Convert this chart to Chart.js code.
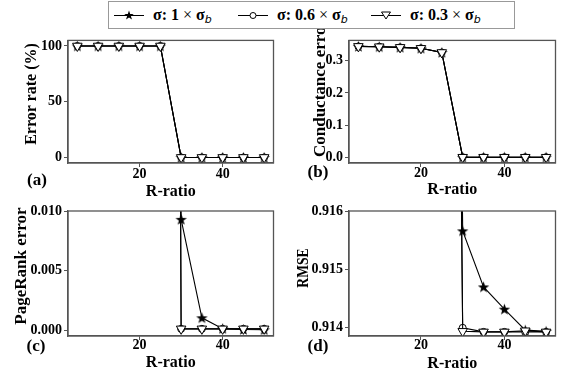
<!DOCTYPE html>
<html>
<head>
<meta charset="utf-8">
<script src="https://cdn.jsdelivr.net/npm/chart.js@4"></script>
<style>
  body { margin: 0; width: 562px; height: 373px; background: #fff; position: relative; overflow: hidden; }
  canvas.panel { position: absolute; }
  .tag { position: absolute; font: bold 17px "Liberation Serif", serif; transform: translate(-50%, -50%); color: #000; }
  .ytitle { position: absolute; font: bold 16px "Liberation Serif", serif; color: #000; white-space: nowrap; line-height: 1; }
  #legend { position: absolute; left: 108px; top: 1px; width: 405px; height: 26px; border: 1px solid #999; background: #fff;
            z-index: 2; font: bold 16px "Liberation Serif", serif; color: #000; }
  .item { position: absolute; top: 0; height: 26px; display: flex; align-items: center; white-space: nowrap; }
  .item canvas { margin-right: 9px; }
  .x { font-weight: normal; }
  .sub { font: italic 11px "DejaVu Sans", sans-serif; position: relative; top: 3px; }
</style>
</head>
<body>
<div id="legend"></div>
<canvas id="chartA" class="panel" width="280" height="170" style="left:0;top:30px"></canvas>
<canvas id="chartB" class="panel" width="282" height="170" style="left:280px;top:30px"></canvas>
<canvas id="chartC" class="panel" width="280" height="173" style="left:0;top:200px"></canvas>
<canvas id="chartD" class="panel" width="282" height="173" style="left:280px;top:200px"></canvas>
<div class="ytitle" style="left:30.5px;top:94px;transform:translate(-50%,-50%) rotate(-90deg)">Error rate (%)</div>
<div class="ytitle" style="left:319px;top:88px;font-size:17px;transform:translate(-50%,-50%) rotate(-90deg)">Conductance error</div>
<div class="ytitle" style="left:19.5px;top:265.5px;font-size:17px;transform:translate(-50%,-50%) rotate(-90deg)">PageRank error</div>
<div class="ytitle" style="left:301.5px;top:268px;font-size:17px;transform:translate(-50%,-50%) rotate(-90deg) scaleX(0.8)">RMSE</div>
<div class="tag" style="left:37px;top:180px">(a)</div>
<div class="tag" style="left:318px;top:172px">(b)</div>
<div class="tag" style="left:36px;top:346px">(c)</div>
<div class="tag" style="left:318px;top:346px">(d)</div>
<script>
// R-ratio values on the x axis
const rRatio = [5, 10, 15, 20, 25, 30, 35, 40, 45, 50];
const xTicks = [20, 40];

// (a) error rate (%)
const errStar   = [100, 100, 100, 100, 100, 0, 0, 0, 0, 0];
const errCircle = [100, 100, 100, 100, 100, 0, 0, 0, 0, 0];
const errTri    = [100, 100, 100, 100, 100, 0, 0, 0, 0, 0];
const errTicks  = [0, 50, 100];

// (b) conductance error
const condStar   = [0.345, 0.344, 0.342, 0.339, 0.326, 0, 0, 0, 0, 0];
const condCircle = [0.345, 0.344, 0.342, 0.339, 0.326, 0, 0, 0, 0, 0];
const condTri    = [0.345, 0.344, 0.342, 0.339, 0.326, 0, 0, 0, 0, 0];
const condTicks  = [0, 0.1, 0.2, 0.3];

// (c) PageRank error (values below R=30 are off the top of the axis)
const prStar   = [0.41, 0.40, 0.40, 0.39, 0.38, 0.0093, 0.00103, 0.00012, 0.00005, 0.00003];
const prCircle = [0.41, 0.40, 0.40, 0.39, 0.38, 0.0001, 0.0001, 0.0001, 0.0001, 0.0001];
const prTri    = [0.41, 0.40, 0.40, 0.39, 0.38, 0.0001, 0.0001, 0.0001, 0.0001, 0.0001];
const prTicks  = [0, 0.005, 0.01];

// (d) RMSE (values below R=30 are off the top of the axis)
const rmseStar   = [0.95, 0.95, 0.95, 0.95, 0.95, 0.91566, 0.91470, 0.91432, 0.91396, 0.91394];
const rmseCircle = [0.95, 0.95, 0.95, 0.95, 0.95, 0.91400, 0.91393, 0.91393, 0.91393, 0.91393];
const rmseTri    = [0.95, 0.95, 0.95, 0.95, 0.95, 0.91394, 0.91393, 0.91393, 0.91395, 0.91393];
const rmseTicks  = [0.914, 0.915, 0.916];

const seriesNames = ['σ: 1 × σ', 'σ: 0.6 × σ', 'σ: 0.3 × σ'];

// filled five-point star used as the point style
function starPath(ctx, cx, cy, ro, ri) {
    ctx.beginPath();
    for (let i = 0; i < 10; i++) {
        const r = i % 2 ? ri : ro;
        const a = -Math.PI / 2 + i * Math.PI / 5;
        ctx.lineTo(cx + r * Math.cos(a), cy + r * Math.sin(a));
    }
    ctx.closePath();
}
const starImg = document.createElement('canvas');
starImg.width = 13; starImg.height = 13;
(function () {
    const c = starImg.getContext('2d');
    starPath(c, 6.5, 7, 6, 2.4);
    c.fillStyle = '#000';
    c.fill();
})();

const serif = '"Liberation Serif", serif';

function datasets(star, circle, tri) {
    const pts = arr => arr.map((v, i) => ({ x: rRatio[i], y: v }));
    return [
        { data: pts(star), borderColor: '#000', borderWidth: 1.1, pointStyle: starImg, order: 3 },
        { data: pts(circle), borderColor: '#000', borderWidth: 1.1, pointStyle: 'circle', pointRadius: 3.5,
          pointBackgroundColor: '#fff', pointBorderColor: '#000', pointBorderWidth: 1, order: 2 },
        { data: pts(tri), borderColor: '#000', borderWidth: 1.1, pointStyle: 'triangle', pointRotation: 180,
          pointRadius: 5.5, pointBackgroundColor: '#fff', pointBorderColor: '#000', pointBorderWidth: 1, order: 1 }
    ];
}

// draw the full box around the plot area
const framePlugin = {
    id: 'frame',
    afterDatasetsDraw(chart) {
        const { ctx, chartArea: a } = chart;
        ctx.save();
        ctx.strokeStyle = '#555';
        ctx.lineWidth = 1.3;
        ctx.strokeRect(a.left, a.top, a.right - a.left, a.bottom - a.top);
        ctx.restore();
    }
};

function makeChart(id, cfg) {
    const axisGrid = { display: true, drawOnChartArea: false, drawTicks: true, tickLength: 4, color: '#555', tickWidth: 1 };
    return new Chart(document.getElementById(id), {
        type: 'line',
        data: { datasets: datasets(cfg.star, cfg.circle, cfg.tri) },
        plugins: [framePlugin],
        options: {
            responsive: false,
            animation: false,
            devicePixelRatio: 1,
            layout: { padding: { top: cfg.padTop, right: cfg.padRight, left: 0, bottom: 0 } },
            plugins: { legend: { display: false }, tooltip: { enabled: false } },
            scales: {
                x: {
                    type: 'linear', min: 2.75, max: 52.25,
                    afterBuildTicks: s => { s.ticks = xTicks.map(v => ({ value: v })); },
                    afterFit: s => { s.height = cfg.xH; },
                    grid: axisGrid,
                    border: { display: true, color: '#555', width: 1.3 },
                    ticks: { color: '#000', font: { family: serif, size: 14, weight: 'bold' }, padding: cfg.xTickPad, maxRotation: 0 },
                    title: { display: true, text: 'R-ratio', color: '#000', font: { family: serif, size: 16, weight: 'bold' },
                             padding: { top: 0, bottom: cfg.xTitlePad } }
                },
                y: {
                    type: 'linear', min: cfg.yMin, max: cfg.yMax,
                    afterBuildTicks: s => { s.ticks = cfg.yTicks.map(v => ({ value: v })); },
                    afterFit: s => { s.width = cfg.yW; },
                    grid: axisGrid,
                    border: { display: true, color: '#555', width: 1.3 },
                    ticks: { color: '#000', font: { family: serif, size: 14, weight: 'bold' }, padding: 2,
                             callback: v => v.toFixed(cfg.dec) }
                }
            }
        }
    });
}

makeChart('chartA', { star: errStar, circle: errCircle, tri: errTri, yTicks: errTicks, yMin: -5, yMax: 105, dec: 0,
    padTop: 7, padRight: 5, yW: 68, xH: 37, xTickPad: -1, xTitlePad: -1 });
makeChart('chartB', { star: condStar, circle: condCircle, tri: condTri, yTicks: condTicks, yMin: -0.018, yMax: 0.3636, dec: 1,
    padTop: 7, padRight: 5, yW: 69, xH: 37, xTickPad: -2, xTitlePad: 1 });
makeChart('chartC', { star: prStar, circle: prCircle, tri: prTri, yTicks: prTicks, yMin: -0.0005, yMax: 0.010, dec: 3,
    padTop: 11, padRight: 5, yW: 68, xH: 37, xTickPad: -3, xTitlePad: 1 });
makeChart('chartD', { star: rmseStar, circle: rmseCircle, tri: rmseTri, yTicks: rmseTicks, yMin: 0.91386, yMax: 0.916, dec: 3,
    padTop: 11, padRight: 6, yW: 69, xH: 37, xTickPad: -3, xTitlePad: 0 });

// shared legend across the top
function drawHandle(c, kind) {
    const ctx = c.getContext('2d');
    ctx.strokeStyle = '#000';
    ctx.lineWidth = 1;
    ctx.beginPath(); ctx.moveTo(0, 7.5); ctx.lineTo(30, 7.5); ctx.stroke();
    if (kind === 0) {
        starPath(ctx, 15, 7.5, 5, 2);
        ctx.fillStyle = '#000'; ctx.fill();
    } else if (kind === 1) {
        ctx.beginPath(); ctx.arc(15, 7.5, 3, 0, Math.PI * 2);
        ctx.fillStyle = '#fff'; ctx.fill(); ctx.stroke();
    } else {
        ctx.beginPath(); ctx.moveTo(10.5, 4); ctx.lineTo(19.5, 4); ctx.lineTo(15, 11); ctx.closePath();
        ctx.fillStyle = '#fff'; ctx.fill(); ctx.stroke();
    }
}
const legendLeft = [5, 129, 262];
const legend = document.getElementById('legend');
seriesNames.forEach((name, i) => {
    const item = document.createElement('div');
    item.className = 'item';
    item.style.left = legendLeft[i] + 'px';
    const c = document.createElement('canvas');
    c.width = 30; c.height = 15;
    drawHandle(c, i);
    item.appendChild(c);
    const parts = name.split('×');
    const label = document.createElement('span');
    label.innerHTML = parts[0] + '<span class="x">×</span>' + parts[1] + '<span class="sub">b</span>';
    item.appendChild(label);
    legend.appendChild(item);
});
</script>
</body>
</html>
